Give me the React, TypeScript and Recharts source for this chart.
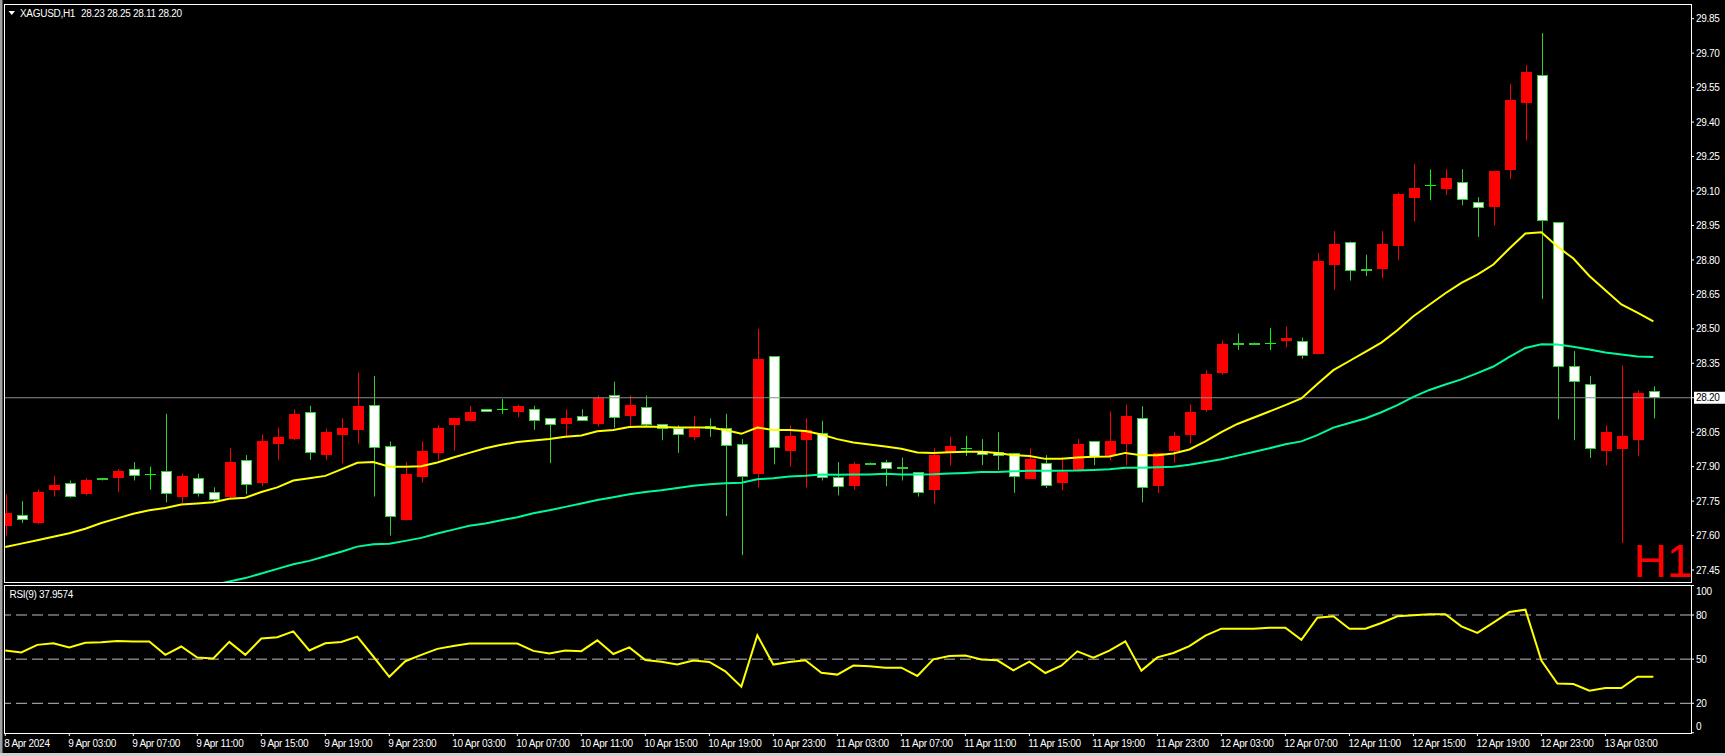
import React from "react";
import { ComposedChart, LineChart, Bar, Line, XAxis, YAxis, ReferenceLine } from "recharts";

// XAGUSD H1 candles (bar 0 = 8 Apr 23:00)
const OPEN = [
  27.64, 27.69, 27.655, 27.8, 27.83, 27.78, 27.85, 27.85, 27.89, 27.87,
  27.88, 27.77, 27.85, 27.79, 27.77, 27.93, 27.83, 28.0, 28.02, 28.14,
  27.95, 28.04, 28.06, 28.17, 27.99, 27.67, 27.855, 27.96, 28.08, 28.1,
  28.15, 28.15, 28.14, 28.15, 28.11, 28.085, 28.12, 28.085, 28.21, 28.12,
  28.16, 28.085, 28.07, 28.03, 28.078, 28.07, 28.0, 27.87, 28.38, 27.97,
  28.015, 28.045, 27.855, 27.815, 27.918, 27.92, 27.9, 27.877, 27.8, 27.965,
  27.98, 27.97, 27.963, 27.96, 27.847, 27.918, 27.828, 27.885, 28.01, 27.948,
  28.0, 28.11, 27.816, 27.968, 28.038, 28.147, 28.308, 28.44, 28.44, 28.44,
  28.448, 28.449, 28.39, 28.778, 28.88, 28.762, 28.76, 28.86, 29.07, 29.125,
  29.11, 29.141, 29.054, 29.03, 29.192, 29.484, 29.603, 28.963, 28.34, 28.262,
  27.968, 27.977, 28.015, 28.23,
];
const HIGH = [
  27.78, 27.75, 27.8, 27.86, 27.84, 27.85, 27.85, 27.89, 27.92, 27.9,
  28.13, 27.87, 27.87, 27.81, 27.98, 27.95, 28.04, 28.07, 28.15, 28.165,
  28.065, 28.11, 28.31, 28.295, 28.01, 27.92, 28.01, 28.08, 28.11, 28.165,
  28.15, 28.195, 28.17, 28.165, 28.11, 28.15, 28.15, 28.21, 28.27, 28.21,
  28.21, 28.085, 28.08, 28.12, 28.11, 28.13, 28.02, 28.5, 28.38, 28.08,
  28.11, 28.1, 27.92, 27.92, 27.918, 27.93, 27.94, 27.877, 27.98, 28.03,
  28.035, 28.02, 28.05, 27.96, 27.98, 27.95, 27.94, 28.02, 28.01, 28.14,
  28.17, 28.163, 27.96, 28.05, 28.17, 28.32, 28.45, 28.48, 28.44, 28.503,
  28.51, 28.462, 28.83, 28.925, 28.88, 28.823, 28.925, 29.093, 29.217, 29.194,
  29.195, 29.195, 29.073, 29.186, 29.565, 29.648, 29.787, 28.963, 28.403, 28.294,
  28.08, 28.342, 28.233, 28.25,
];
const LOW = [
  27.6, 27.655, 27.65, 27.77, 27.765, 27.775, 27.84, 27.79, 27.84, 27.8,
  27.745, 27.74, 27.77, 27.745, 27.76, 27.78, 27.815, 27.93, 28.015, 27.93,
  27.93, 27.915, 28.0, 27.77, 27.6, 27.665, 27.83, 27.93, 27.97, 28.1,
  28.14, 28.13, 28.115, 28.06, 27.915, 28.03, 28.1, 28.075, 28.07, 28.07,
  28.077, 28.015, 27.96, 28.015, 28.03, 27.685, 27.515, 27.81, 27.91, 27.9,
  27.81, 27.84, 27.775, 27.8, 27.91, 27.815, 27.84, 27.77, 27.74, 27.905,
  27.947, 27.907, 27.885, 27.786, 27.847, 27.807, 27.797, 27.885, 27.906, 27.928,
  27.906, 27.745, 27.786, 27.917, 28.0, 28.138, 28.3, 28.408, 28.433, 28.408,
  28.42, 28.37, 28.39, 28.67, 28.71, 28.73, 28.72, 28.8, 28.968, 29.06,
  29.082, 29.038, 28.9, 28.95, 29.152, 29.32, 28.63, 28.106, 28.015, 27.938,
  27.906, 27.568, 27.947, 28.11,
];
const CLOSE = [
  27.7, 27.67, 27.79, 27.82, 27.77, 27.84, 27.84, 27.88, 27.86, 27.87,
  27.78, 27.86, 27.78, 27.755, 27.92, 27.82, 28.01, 28.03, 28.13, 27.96,
  28.05, 28.07, 28.165, 27.98, 27.68, 27.87, 27.97, 28.07, 28.11, 28.14,
  28.14, 28.15, 28.165, 28.1, 28.08, 28.11, 28.1, 28.2, 28.11, 28.17,
  28.08, 28.065, 28.04, 28.065, 28.063, 27.99, 27.855, 28.37, 27.98, 28.035,
  28.06, 27.85, 27.81, 27.91, 27.91, 27.89, 27.89, 27.787, 27.95, 27.99,
  27.98, 27.95, 27.948, 27.857, 27.933, 27.818, 27.877, 28.0, 27.943, 28.01,
  28.12, 27.808, 27.96, 28.032, 28.14, 28.302, 28.433, 28.433, 28.433, 28.44,
  28.462, 28.38, 28.794, 28.87, 28.753, 28.753, 28.87, 29.086, 29.112, 29.125,
  29.155, 29.063, 29.024, 29.186, 29.495, 29.617, 28.97, 28.332, 28.27, 27.977,
  28.05, 28.033, 28.22, 28.2,
];

// moving averages (yellow = fast, teal = slow), values read per bar
const MA_FAST = [
  27.55, 27.565, 27.58, 27.595, 27.61, 27.63, 27.655, 27.675, 27.695, 27.71,
  27.72, 27.735, 27.74, 27.745, 27.76, 27.765, 27.79, 27.81, 27.84, 27.85,
  27.86, 27.888, 27.917, 27.92, 27.9, 27.9, 27.902, 27.918, 27.94, 27.96,
  27.98, 27.995, 28.007, 28.014, 28.02, 28.03, 28.036, 28.054, 28.06, 28.073,
  28.075, 28.073, 28.07, 28.07, 28.07, 28.06, 28.043, 28.07, 28.06, 28.06,
  28.055, 28.04, 28.02, 28.005, 27.997, 27.988, 27.978, 27.962, 27.96, 27.963,
  27.965, 27.965, 27.96, 27.95, 27.946, 27.934, 27.934, 27.94, 27.943, 27.944,
  27.96, 27.95, 27.95, 27.957, 27.975, 28.01, 28.05, 28.086, 28.113, 28.14,
  28.168, 28.197, 28.26, 28.32, 28.36, 28.4, 28.44, 28.494, 28.555, 28.605,
  28.655, 28.7, 28.736, 28.78, 28.85, 28.915, 28.92, 28.858, 28.806, 28.73,
  28.668, 28.606, 28.571, 28.533,
];
const MA_SLOW = [
  null, null, null, null, null, null, null, null, null, null,
  null, null, null, 27.385, 27.4, 27.415, 27.435, 27.455, 27.475, 27.49,
  27.51, 27.53, 27.552, 27.562, 27.565, 27.577, 27.59, 27.609, 27.626, 27.643,
  27.653, 27.667, 27.68, 27.697, 27.71, 27.725, 27.74, 27.755, 27.767, 27.78,
  27.79, 27.797, 27.807, 27.817, 27.824, 27.828, 27.83, 27.845, 27.85, 27.857,
  27.86, 27.866, 27.865, 27.866, 27.866, 27.869, 27.866, 27.866, 27.867, 27.87,
  27.873, 27.877, 27.877, 27.88, 27.882, 27.882, 27.882, 27.883, 27.886, 27.889,
  27.895, 27.895, 27.898, 27.9, 27.908, 27.92, 27.932, 27.948, 27.964, 27.98,
  27.998, 28.01, 28.037, 28.07, 28.09, 28.11, 28.137, 28.168, 28.204, 28.234,
  28.258, 28.28, 28.307, 28.336, 28.378, 28.417, 28.433, 28.432, 28.422, 28.41,
  28.397, 28.388, 28.38, 28.377,
];

const RSI = [
  55.9, 54.5, 59.7, 60.8, 57.9, 61.1, 61.5, 62.4, 62.0, 62.0,
  52.9, 58.6, 51.1, 50.4, 61.7, 52.9, 64.0, 64.9, 68.9, 55.9,
  60.8, 61.7, 65.3, 51.8, 38.0, 48.6, 52.9, 57.0, 59.0, 60.6,
  60.6, 60.6, 60.6, 55.6, 53.8, 55.9, 55.4, 62.8, 53.5, 58.0,
  49.4, 48.3, 46.3, 49.0, 48.1, 41.7, 31.3, 66.2, 46.3, 48.1,
  49.2, 40.8, 39.5, 45.6, 45.1, 44.2, 44.2, 38.6, 49.9, 52.2,
  52.4, 49.7, 49.2, 42.4, 48.3, 40.6, 45.6, 55.3, 51.0, 55.8,
  62.1, 42.2, 51.2, 54.2, 58.9, 66.0, 70.7, 70.7, 70.7, 71.4,
  71.4, 63.2, 78.2, 79.1, 70.7, 70.7, 74.6, 79.1, 79.8, 80.5,
  80.5, 72.3, 67.8, 74.8, 82.0, 83.6, 49.0, 33.4, 33.1, 28.6,
  30.4, 30.4, 38.1, 37.9574,
];

const TIME_TICK_BARS = [0, 4, 8, 12, 16, 20, 24, 28, 32, 36, 40, 44, 48, 52, 56, 60, 64, 68, 72, 76, 80, 84, 88, 92, 96, 100];
const TIME_LABELS = [
  "8 Apr 2024", "9 Apr 03:00", "9 Apr 07:00", "9 Apr 11:00", "9 Apr 15:00", "9 Apr 19:00", "9 Apr 23:00",
  "10 Apr 03:00", "10 Apr 07:00", "10 Apr 11:00", "10 Apr 15:00", "10 Apr 19:00", "10 Apr 23:00",
  "11 Apr 03:00", "11 Apr 07:00", "11 Apr 11:00", "11 Apr 15:00", "11 Apr 19:00", "11 Apr 23:00",
  "12 Apr 03:00", "12 Apr 07:00", "12 Apr 11:00", "12 Apr 15:00", "12 Apr 19:00", "12 Apr 23:00",
  "13 Apr 03:00",
];
const PRICE_TICKS = [27.45, 27.6, 27.75, 27.9, 28.05, 28.2, 28.35, 28.5, 28.65, 28.8, 28.95, 29.1, 29.25, 29.4, 29.55, 29.7, 29.85];
const RSI_TICKS = [0, 20, 50, 80, 100];
const RSI_LEVELS = [20, 50, 80];

const SYMBOL = "XAGUSD,H1";
const PERIOD = "H1";

const FONT = '"Liberation Sans", Arial, sans-serif';
const BULL = "#ff0000";
const BEAR_EDGE = "#32cd32";
const DOJI = "#00ff00";
const W = 1725;
const X_DOMAIN: [number, number] = [-0.08, 105.35];

const last = CLOSE.length - 1;
const LAST_PRICE = CLOSE[last];

const bars = OPEN.map((o, i) => ({
  i,
  o,
  h: HIGH[i],
  l: LOW[i],
  c: CLOSE[i],
  fast: MA_FAST[i],
  slow: MA_SLOW[i],
  rsi: RSI[i],
}));

function Candle(props: any) {
  const { x, y, width, height, payload } = props;
  const { o, h, l, c } = payload;
  const k = h > l ? height / (h - l) : 0;
  const at = (v: number) => y + (h - v) * k;
  const mid = Math.round(x + width / 2);
  const wx = mid + 0.5;
  const top = Math.round(at(Math.max(o, c)));
  const bottom = Math.round(at(Math.min(o, c)));

  if (o === c) {
    return (
      <g>
        <line x1={wx} x2={wx} y1={y} y2={y + height} stroke={DOJI} />
        <line x1={mid - 5} x2={mid + 6} y1={top + 0.5} y2={top + 0.5} stroke={DOJI} />
      </g>
    );
  }
  if (c > o) {
    return (
      <g>
        <line x1={wx} x2={wx} y1={y} y2={y + height} stroke={BULL} />
        <rect x={mid - 5} y={top} width={11} height={Math.max(bottom - top, 1)} fill={BULL} />
      </g>
    );
  }
  return (
    <g>
      <line x1={wx} x2={wx} y1={y} y2={y + height} stroke={BEAR_EDGE} />
      <rect x={mid - 4.5} y={top + 0.5} width={10} height={Math.max(bottom - top - 1, 1)} fill="#ffffff" stroke={BEAR_EDGE} />
    </g>
  );
}

const txt = { fontFamily: FONT, fontSize: 10, letterSpacing: -0.3 };

function PriceTick(props: any) {
  const { x, y, payload } = props;
  const v = payload.value as number;
  if (Math.abs(v - LAST_PRICE) < 1e-6) {
    return (
      <g>
        <rect x={x - 2} y={y - 6} width={31} height={12} fill="#ffffff" />
        <text x={x} y={y + 3.6} fill="#000000" style={txt}>{v.toFixed(2)}</text>
      </g>
    );
  }
  return <text x={x} y={y + 3.6} fill="#ffffff" style={txt}>{v.toFixed(2)}</text>;
}

function RsiTick(props: any) {
  const { x, y, payload } = props;
  const v = payload.value as number;
  const shift = v === 100 ? 6 : v === 0 ? -6 : 0;
  return <text x={x} y={y + shift + 3.6} fill="#ffffff" style={txt}>{v}</text>;
}

function TimeTick(props: any) {
  const { x, y, index } = props;
  return <text x={x - 1} y={y + 9} fill="#ffffff" style={txt}>{TIME_LABELS[index]}</text>;
}

export default function App() {
  return (
    <div style={{ position: "absolute", left: 0, top: 0, width: W, height: 756, background: "#000", overflow: "hidden" }}>
      <style>{"body{margin:0;background:#000}"}</style>

      <div style={{ position: "absolute", left: 0, top: 0 }}>
        <ComposedChart width={W} height={582} data={bars} margin={{ top: 4, right: 0, bottom: 0, left: 4 }}>
          <XAxis dataKey="i" type="number" domain={X_DOMAIN} hide allowDataOverflow />
          <YAxis
            orientation="right"
            width={34}
            domain={[27.398, 29.914]}
            ticks={PRICE_TICKS}
            interval={0}
            allowDataOverflow
            axisLine={false}
            tickSize={3}
            tickLine={{ stroke: "#ffffff" }}
            tick={<PriceTick />}
          />
          <ReferenceLine y={LAST_PRICE} stroke="#8c8c8c" />
          <Bar dataKey={(d: any) => [d.l, d.h]} barSize={11} shape={<Candle />} isAnimationActive={false} />
          <Line dataKey="slow" type="linear" stroke="#00fa9a" strokeWidth={2} dot={false} activeDot={false} isAnimationActive={false} />
          <Line dataKey="fast" type="linear" stroke="#ffff00" strokeWidth={2} dot={false} activeDot={false} isAnimationActive={false} />
        </ComposedChart>
      </div>

      <div style={{ position: "absolute", left: 0, top: 585 }}>
        <LineChart width={W} height={171} data={bars} margin={{ top: 0, right: 0, bottom: 0, left: 4 }}>
          <XAxis
            dataKey="i"
            type="number"
            domain={X_DOMAIN}
            allowDataOverflow
            ticks={TIME_TICK_BARS}
            interval={0}
            height={23}
            axisLine={false}
            tickSize={3}
            tickLine={{ stroke: "#ffffff" }}
            tick={<TimeTick />}
          />
          <YAxis
            orientation="right"
            width={34}
            domain={[-0.18, 100.38]}
            ticks={RSI_TICKS}
            interval={0}
            allowDataOverflow
            axisLine={false}
            tickSize={3}
            tickLine={{ stroke: "#ffffff" }}
            tick={<RsiTick />}
          />
          {RSI_LEVELS.map((v) => (
            <ReferenceLine key={v} y={v} stroke="#c0c0c0" strokeDasharray="11 5" />
          ))}
          <Line dataKey="rsi" type="linear" stroke="#ffff00" strokeWidth={2} dot={false} activeDot={false} isAnimationActive={false} />
        </LineChart>
      </div>

      {/* panel frames and captions */}
      <svg width={W} height={756} style={{ position: "absolute", left: 0, top: 0, pointerEvents: "none" }}>
        <rect x={0} y={0} width={2.5} height={756} fill="#a0a0a0" />
        <rect x={0} y={753} width={W} height={3} fill="#d0d0d0" />
        <rect x={4.5} y={4.5} width={1687} height={578} fill="none" stroke="#ffffff" />
        <rect x={4.5} y={585.5} width={1687} height={148} fill="none" stroke="#ffffff" />
        <polygon points="8.5,11 15,11 11.75,15" fill="#ffffff" />
        <text x={20} y={16.5} fill="#ffffff" style={txt}>{SYMBOL}</text>
        <text x={81} y={16.5} fill="#ffffff" style={txt}>
          {`${OPEN[last].toFixed(2)} ${HIGH[last].toFixed(2)} ${LOW[last].toFixed(2)} ${CLOSE[last].toFixed(2)}`}
        </text>
        <text x={9.5} y={597.5} fill="#ffffff" style={txt}>{`RSI(9) ${RSI[last].toFixed(4)}`}</text>
        <text x={1633.5} y={576.5} fill="#ff0000" style={{ fontFamily: FONT, fontSize: 46 }}>{PERIOD}</text>
      </svg>
    </div>
  );
}
